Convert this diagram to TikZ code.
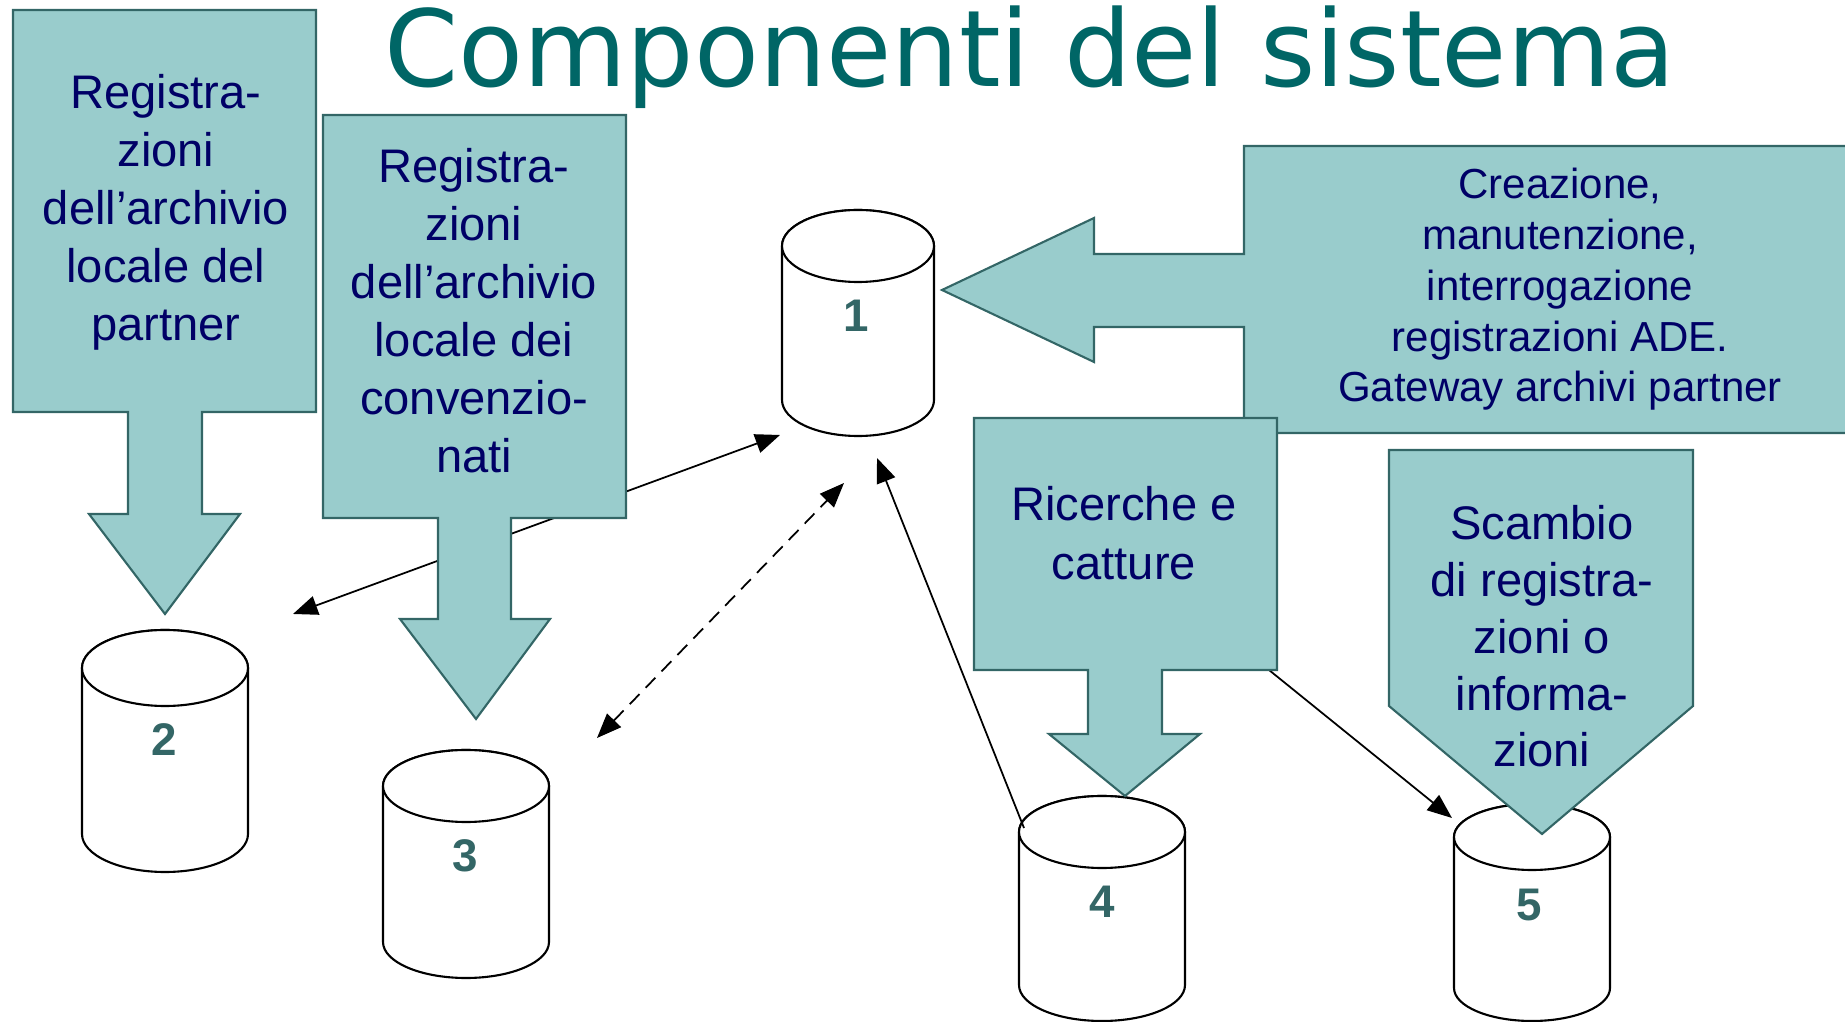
\documentclass[tikz,border=0pt]{standalone}
\usepackage{fontspec}
\setmainfont{Liberation Sans}
\newfontfamily\titlefont{DejaVu Sans}
\usetikzlibrary{arrows.meta}
\definecolor{boxfill}{HTML}{99CCCC}
\definecolor{boxline}{HTML}{336666}
\definecolor{txt}{HTML}{000066}
\definecolor{ttl}{HTML}{006666}
\definecolor{lbl}{HTML}{336666}
\newcommand\dbcyl[5]{%
 \draw[db] ({#1-#3},#2) -- ({#1-#3},#5) arc[start angle=180,end angle=0,x radius=#3,y radius=#4] -- ({#1+#3},#2) arc[start angle=0,end angle=-180,x radius=#3,y radius=#4] -- cycle;
 \draw[db] (#1,#2) ellipse[x radius=#3, y radius=#4];
}
\begin{document}
\begin{tikzpicture}[x=0.01cm,y=-0.01cm,
 callout/.style={fill=boxfill, draw=boxline, line width=0.6pt, line join=miter},
 boxtext/.style={text=txt, align=center, font=\fontsize{13.4}{16.5}\selectfont, anchor=base, inner sep=0pt},
 db/.style={fill=white, draw=black, line width=0.6pt},
 dblabel/.style={text=lbl, font=\fontsize{13}{14}\selectfont\bfseries, anchor=base, inner sep=0pt},
 conn/.style={line width=0.5pt, -{Triangle[length=7pt,width=5.5pt]}},
 conn2/.style={line width=0.5pt, {Triangle[length=7pt,width=5.5pt]}-{Triangle[length=7pt,width=5.5pt]}}
]
\useasboundingbox (0,0) rectangle (1845,1022);

% title
\node[text=ttl, font=\titlefont\fontsize{30.2}{32}\selectfont, anchor=base, inner sep=0pt] (title) at (1030,87) {Componenti del sistema};

% databases
\dbcyl{858}{246}{76}{36}{400}
\dbcyl{165}{668}{83}{38}{834}
\dbcyl{466}{786}{83}{36}{942}
\dbcyl{1102}{832}{83}{36}{985}
\dbcyl{1532}{837}{78}{33}{988}
\node[dblabel] (c1) at (856,332) {1};
\node[dblabel] (c2) at (164,756) {2};
\node[dblabel] (c3) at (465,872) {3};
\node[dblabel] (c4) at (1102,918) {4};
\node[dblabel] (c5) at (1529,920) {5};

% connector end points
\coordinate (p1a) at (780,435);
\coordinate (p2a) at (293,614);
\coordinate (p1b) at (844,483);
\coordinate (p3b) at (597,738);
\coordinate (p4c) at (1024,828);
\coordinate (p1c) at (877,458);
\coordinate (pDd) at (1269,670);
\coordinate (p5d) at (1452,818);

\draw[conn2] (p2a) -- (p1a);
\draw[conn2, dash pattern=on 4pt off 2.5pt] (p3b) -- (p1b);
\draw[conn] (p4c) -- (p1c);
\draw[conn] (pDd) -- (p5d);

% callouts
\draw[callout] (13,10) -- (316,10) -- (316,412) -- (202,412) -- (202,514) -- (240,514) -- (165,614) -- (89,514) -- (128,514) -- (128,412) -- (13,412) -- cycle;
\draw[callout] (323,115) -- (626,115) -- (626,518) -- (511,518) -- (511,619) -- (550,619) -- (476,719) -- (400,619) -- (438,619) -- (438,518) -- (323,518) -- cycle;
\draw[callout] (1244,146) -- (1860,146) -- (1860,433) -- (1244,433) -- (1244,327) -- (1094,327) -- (1094,362) -- (942,290) -- (1094,218) -- (1094,254) -- (1244,254) -- cycle;
\draw[callout] (974,418) -- (1277,418) -- (1277,670) -- (1162,670) -- (1162,734) -- (1200,734) -- (1125,796) -- (1049,734) -- (1088,734) -- (1088,670) -- (974,670) -- cycle;
\draw[callout] (1389,450) -- (1693,450) -- (1693,706) -- (1542,834) -- (1389,706) -- cycle;

% texts (anchor = baseline of the last line)
\node[boxtext] (tA) at (166,341) {Registra-\\zioni\\dell’archivio\\locale del\\partner};
\node[boxtext] (tB) at (474,473) {Registra-\\zioni\\dell’archivio\\locale dei\\convenzio-\\nati};
\node[boxtext, font=\fontsize{11.95}{14.5}\selectfont] (tC) at (1560,402) {Creazione,\\manutenzione,\\interrogazione\\registrazioni ADE.\\Gateway archivi partner};
\node[boxtext, font=\fontsize{13.4}{16.8}\selectfont] (tD) at (1124,580) {Ricerche e\\catture};
\node[boxtext, font=\fontsize{13.4}{16.2}\selectfont] (tE) at (1542,767) {Scambio\\di registra-\\zioni o\\informa-\\zioni};
\end{tikzpicture}
\end{document}
